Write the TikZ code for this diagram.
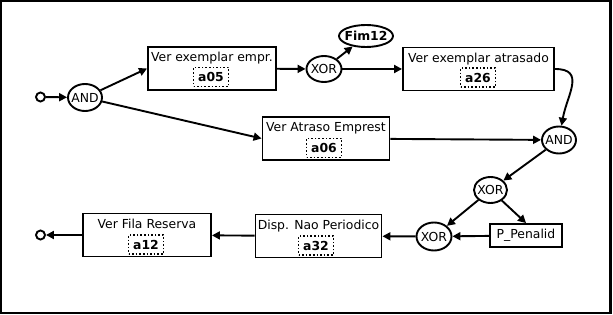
\documentclass[tikz,border=0pt]{standalone}
\usepackage{fontspec}
\setmainfont{DejaVu Sans}
\usetikzlibrary{shapes.geometric,arrows.meta}

\begin{document}
\begin{tikzpicture}[x=1pt,y=-1pt,>={Triangle[length=8pt,width=8pt]},line width=1.9pt,
    font=\fontsize{12.4}{14}\selectfont,
    act node/.style={draw,rectangle,inner xsep=1pt,inner ysep=0pt,text height=15pt,text depth=28pt,minimum width=128pt},
    code node/.style={draw,dotted,line width=1.6pt,inner sep=0pt,minimum width=35pt,minimum height=19pt,font=\fontsize{12.4}{14}\selectfont\bfseries},
    gate node/.style={draw,ellipse,inner xsep=-3pt,inner ysep=0pt,minimum width=34pt,minimum height=27pt},
    end node/.style={draw,circle,inner sep=0pt,minimum size=9pt}]

    \useasboundingbox (0,0) rectangle (613,315);
    \draw[line width=2.2pt] (1.2,1.2) rectangle (610.5,312.8);

    \node (0) [end node] at (40.5,97){};
    \node (1) [gate node] at (85,97.5){AND};

    \node (2) [act node] at (212,68.5){Ver exemplar empr.};
    \node (2c) [code node] at (211,77){a05};

    \node (3) [gate node,minimum width=35pt,minimum height=26pt] at (324,69){XOR};
    \node (4) [gate node,minimum width=54pt,minimum height=22pt,font=\fontsize{12.4}{14}\selectfont\bfseries] at (366,36){Fim12};

    \node (5) [act node,minimum width=151pt] at (478.5,69){Ver exemplar atrasado};
    \node (5c) [code node] at (478,77.5){a26};

    \node (6) [act node,minimum width=127pt] at (326,138.5){Ver Atraso Emprest};
    \node (6c) [code node] at (324,148){a06};

    \node (7) [gate node] at (559,140){AND};
    \node (8) [gate node,minimum width=33pt,minimum height=26pt] at (490.5,190){XOR};
    \node (9) [draw,rectangle,minimum width=72pt,minimum height=23pt,inner sep=0pt] at (526,235.5){P\_Penalid};
    \node (10) [gate node,minimum width=35pt,minimum height=28pt] at (434,236.5){XOR};

    \node (11) [act node,minimum width=126pt] at (318.5,236){Disp. Nao Periodico};
    \node (11c) [code node] at (316,245.5){a32};

    \node (12) [act node] at (147,235){Ver Fila Reserva};
    \node (12c) [code node] at (146,244.5){a12};

    \node (13) [end node] at (40.5,235){};

    \path[->]
        (0) edge (1)
        (1) edge (2.west)
        (1) edge (6.west)

        (2) edge (3)
        (3) edge (4)
        (3) edge (5)

        (5.east) edge[out=0,in=80,looseness=1.4] (7)
        (6) edge (7)

        (7) edge (8)
        (8) edge (10)
        (8) edge (9.north)

        (9) edge (10)
        (10) edge (11)
        (11) edge (12)
        (12) edge (13)
    ;
\end{tikzpicture}
\end{document}
